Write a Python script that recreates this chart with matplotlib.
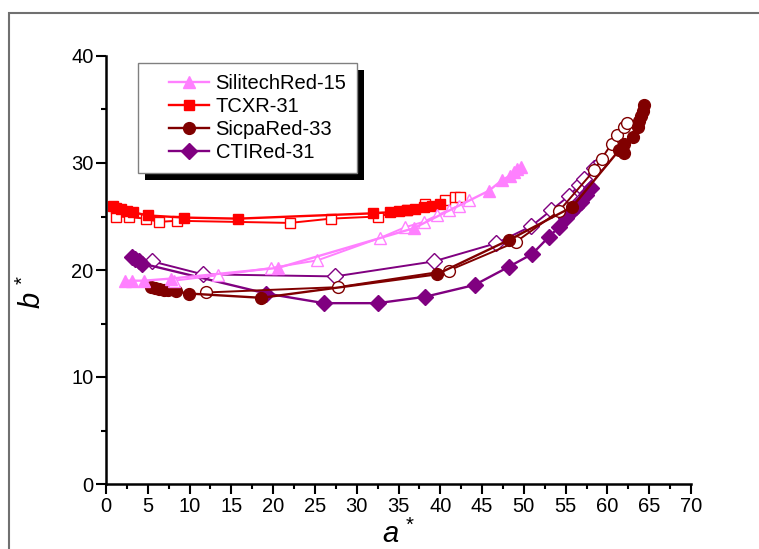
import numpy as np
import matplotlib
matplotlib.use("Agg")
import matplotlib.pyplot as plt
from matplotlib.patches import Rectangle
from matplotlib.transforms import IdentityTransform
from matplotlib.ticker import MultipleLocator
from matplotlib.legend_handler import HandlerLine2D

plt.rcParams['font.family'] = ['Liberation Sans', 'DejaVu Sans']
plt.rcParams['mathtext.fontset'] = 'custom'
plt.rcParams['mathtext.rm'] = 'Liberation Sans'
plt.rcParams['mathtext.it'] = 'Liberation Sans:italic'

# SilitechRed-15
sil_a_fill = [2.3, 3.1, 4.5, 7.8, 20.6, 36.8, 45.8, 47.4, 48.3, 48.8, 49.2, 49.6]
sil_b_fill = [19.0, 19.0, 19.0, 19.2, 20.2, 23.9, 27.4, 28.4, 28.8, 29.2, 29.4, 29.6]
sil_a_open = [8.1, 13.4, 19.8, 25.3, 32.8, 35.8, 38.0, 39.6, 41.0, 42.2, 43.4]
sil_b_open = [19.0, 19.5, 20.2, 20.9, 23.0, 24.0, 24.5, 25.1, 25.6, 26.0, 26.5]

# TCXR-31
tcx_a_fill = [0.8, 1.2, 1.8, 2.5, 3.2, 5.0, 9.3, 15.8, 32.0, 34.0, 35.0, 36.0, 37.0, 38.0, 39.0, 40.0]
tcx_b_fill = [26.0, 25.8, 25.7, 25.5, 25.4, 25.1, 24.9, 24.8, 25.3, 25.4, 25.5, 25.6, 25.7, 25.9, 26.0, 26.2]
tcx_a_open = [1.2, 2.7, 4.75, 6.35, 8.5, 22.0, 26.9, 32.5, 36.0, 38.2, 40.6, 41.8, 42.4]
tcx_b_open = [25.0, 24.95, 24.8, 24.5, 24.6, 24.4, 24.8, 25.0, 25.6, 26.2, 26.5, 26.8, 26.8]

# SicpaRed-33
sic_a_fill = [5.4, 5.9, 6.4, 6.9, 7.4, 8.35, 9.95, 18.6, 39.6, 48.2, 55.8, 61.4, 62.0, 62.0, 63.0, 63.6, 63.8, 64.0, 64.2, 64.4]
sic_b_fill = [18.4, 18.3, 18.2, 18.15, 18.1, 18.0, 17.8, 17.4, 19.6, 22.8, 25.9, 31.2, 30.9, 31.8, 32.4, 33.4, 33.9, 34.4, 34.9, 35.4]
sic_a_open = [12.0, 27.8, 41.0, 49.0, 54.2, 58.4, 59.3, 60.5, 61.2, 62.0, 62.3]
sic_b_open = [17.9, 18.4, 19.95, 22.6, 25.5, 29.3, 30.4, 31.8, 32.6, 33.4, 33.75]

# CTIRed-31
cti_a_fill = [3.1, 3.5, 3.9, 4.35, 19.2, 26.1, 32.5, 38.2, 44.1, 48.2, 51.0, 53.0, 54.2, 55.0, 55.6, 56.2, 56.8, 57.4, 58.0]
cti_b_fill = [21.2, 21.0, 20.8, 20.6, 17.8, 16.9, 16.9, 17.5, 18.6, 20.3, 21.5, 23.1, 24.0, 24.9, 25.4, 25.9, 26.4, 27.0, 27.7]
cti_a_open = [5.55, 11.55, 27.4, 39.2, 46.7, 50.9, 53.3, 55.35, 56.6, 57.2, 58.4, 59.2]
cti_b_open = [20.8, 19.6, 19.4, 20.8, 22.5, 24.1, 25.6, 26.9, 27.9, 28.5, 29.5, 30.1]

fig = plt.figure(figsize=(7.59, 5.49), dpi=100)
ax = fig.add_axes([106/759, 1 - 484/549, 585/759, 428/549])

# outer frame of the figure
fig.patches.append(Rectangle((9/759, -0.1), 1.2, 1 - 13/549 + 0.1, transform=fig.transFigure,
                             fill=False, edgecolor='#707070', lw=1.5, clip_on=False))

def series(a1, b1, a2, b2, col, mk, ms, label):
    ax.plot(a2, b2, color=col, lw=1.4, marker=mk, ms=ms, mfc='white', mec=col, mew=1.0, clip_on=False)
    ax.plot(a1, b1, color=col, lw=1.7, marker=mk, ms=ms, mfc=col, mec=col, clip_on=False, label=label)

series(cti_a_fill, cti_b_fill, cti_a_open, cti_b_open, '#800080', 'D', 8, 'CTIRed-31')
series(sic_a_fill, sic_b_fill, sic_a_open, sic_b_open, '#800000', 'o', 8.5, 'SicpaRed-33')
series(tcx_a_fill, tcx_b_fill, tcx_a_open, tcx_b_open, '#FF0000', 's', 7.5, 'TCXR-31')
series(sil_a_fill, sil_b_fill, sil_a_open, sil_b_open, '#FF80FF', '^', 9, 'SilitechRed-15')

ax.set_xlim(0, 70)
ax.set_ylim(0, 40)
ax.xaxis.set_major_locator(MultipleLocator(5))
ax.xaxis.set_minor_locator(MultipleLocator(2.5))
ax.yaxis.set_major_locator(MultipleLocator(10))
ax.yaxis.set_minor_locator(MultipleLocator(5))
ax.tick_params(which='major', direction='out', length=7, width=1.5, labelsize=14.5, pad=2)
ax.tick_params(which='minor', direction='out', length=3.8, width=1.5)
for s in ['top', 'right']:
    ax.spines[s].set_visible(False)
for s in ['left', 'bottom']:
    ax.spines[s].set_linewidth(1.8)

ax.set_xlabel(r'$a^{\,*}$', fontsize=21, labelpad=3)
ax.set_ylabel(r'$b^{\,*}$', fontsize=21)
ax.yaxis.set_label_coords(-0.1, 0.45)

handles, labels = ax.get_legend_handles_labels()
leg = ax.legend(handles[::-1], labels[::-1], loc='upper left', bbox_to_anchor=(138/759, 1 - 63/549),
                bbox_transform=fig.transFigure, fontsize=14.5, frameon=True, fancybox=False,
                handlelength=3.0, handletextpad=0.3, borderpad=0.55, labelspacing=0.2,
                borderaxespad=0, edgecolor='#808080', framealpha=1,
                handler_map={h: HandlerLine2D(xpad=1.0) for h in handles})
leg.get_frame().set_linewidth(1.0)
leg.set_zorder(6)

fig.canvas.draw()
bb = leg.get_window_extent()
ax.add_patch(Rectangle((bb.x0 + 7, bb.y0 - 7), bb.width, bb.height, transform=IdentityTransform(),
                       facecolor='black', edgecolor='none', zorder=5.5, clip_on=False))

fig.savefig('out.png', dpi=100)
